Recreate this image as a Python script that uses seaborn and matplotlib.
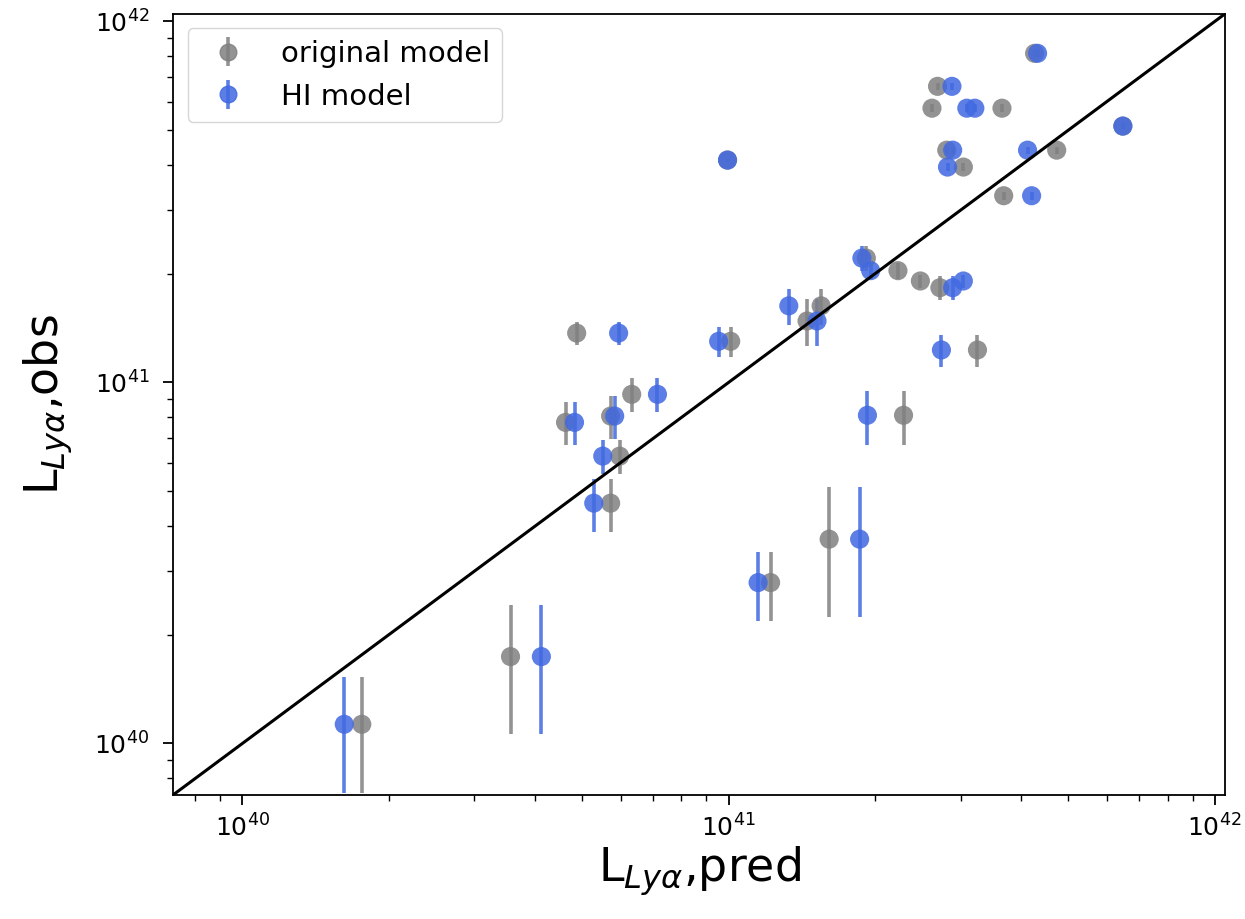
import numpy as np
import pandas as pd
import matplotlib
matplotlib.use("Agg")
import matplotlib.pyplot as plt
import seaborn as sns

# Observed Lya luminosities (erg/s) and their 1-sigma uncertainties
l_obs = [8.16e41, 6.61e41, 5.75e41, 5.75e41, 4.40e41, 3.95e41, 4.40e41,
         3.29e41, 5.13e41, 4.13e41, 2.21e41, 2.04e41, 1.91e41, 1.83e41,
         1.63e41, 1.48e41, 1.30e41, 1.37e41, 1.23e41, 9.27e40, 8.11e40,
         8.07e40, 7.75e40, 6.25e40, 4.63e40, 3.68e40, 2.79e40, 1.74e40,
         1.13e40]
l_obs_err = [2.0e40, 1.6e40, 1.4e40, 1.4e40, 1.2e40, 1.0e40, 1.0e40,
             8.0e39, 1.0e40, 6.0e39, 1.7e40, 1.0e40, 8.0e39, 1.4e40,
             1.9e40, 2.2e40, 1.25e40, 1.0e40, 1.25e40, 1.0e40, 1.38e40,
             1.1e40, 1.05e40, 6.7e39, 7.7e39, 1.44e40, 6.0e39, 6.8e39,
             4.0e39]

# Predicted luminosities from the two models
l_pred_original = [4.26e41, 2.69e41, 2.62e41, 3.65e41, 2.81e41, 3.04e41,
                   4.73e41, 3.68e41, 6.47e41, 9.95e40, 1.92e41, 2.23e41,
                   2.48e41, 2.72e41, 1.55e41, 1.45e41, 1.01e41, 4.87e40,
                   3.25e41, 6.32e40, 2.29e41, 5.72e40, 4.62e40, 5.97e40,
                   5.72e40, 1.61e41, 1.22e41, 3.56e40, 1.76e40]
l_pred_hi = [4.32e41, 2.88e41, 3.09e41, 3.21e41, 2.89e41, 2.82e41,
             4.12e41, 4.20e41, 6.47e41, 9.95e40, 1.88e41, 1.96e41,
             3.04e41, 2.89e41, 1.33e41, 1.52e41, 9.54e40, 5.94e40,
             2.74e41, 7.14e40, 1.93e41, 5.83e40, 4.82e40, 5.51e40,
             5.28e40, 1.86e41, 1.15e41, 4.12e40, 1.62e40]

model_names = ["original model", "HI model"]
model_colors = ["grey", "royalblue"]
axis_limits = [7.2e39, 1.05e42]

df = pd.concat([
    pd.DataFrame({"pred": l_pred_original, "obs": l_obs, "err": l_obs_err,
                  "model": model_names[0]}),
    pd.DataFrame({"pred": l_pred_hi, "obs": l_obs, "err": l_obs_err,
                  "model": model_names[1]}),
], ignore_index=True)

plt.rcParams.update({
    "xtick.labelsize": 18,
    "ytick.labelsize": 18,
    "xtick.major.pad": 7,
    "ytick.major.pad": 10,
    "axes.labelsize": 33,
    "legend.fontsize": 21,
    "axes.linewidth": 1.3,
    "xtick.major.size": 7, "ytick.major.size": 7,
    "xtick.major.width": 1.3, "ytick.major.width": 1.3,
    "xtick.minor.size": 4, "ytick.minor.size": 4,
    "xtick.minor.width": 1.0, "ytick.minor.width": 1.0,
})

fig = plt.figure(figsize=(12.45, 9.19), dpi=100)
ax = fig.add_axes([0.139, 0.135, 0.845, 0.850])
ax.set_xscale("log")
ax.set_yscale("log")

alpha = 0.85
palette = dict(zip(model_names, model_colors))
for name, color in zip(model_names, model_colors):
    sub = df[df["model"] == name]
    ax.errorbar(sub["pred"], sub["obs"], yerr=sub["err"], fmt="none",
                ecolor=color, elinewidth=2.6, alpha=alpha, zorder=2)

sns.scatterplot(data=df, x="pred", y="obs", hue="model", palette=palette,
                s=190, alpha=alpha, linewidth=0, legend=False, ax=ax,
                zorder=3)

# one-to-one relation
sns.lineplot(x=axis_limits, y=axis_limits, color="black", linewidth=2.2,
             ax=ax, zorder=4)

ax.set_xlim(axis_limits)
ax.set_ylim(axis_limits)

# legend entries in errorbar style
handles = []
for name, color in zip(model_names, model_colors):
    h = ax.errorbar([], [], yerr=[], fmt="o", color=color, markersize=12,
                    elinewidth=2.6, alpha=alpha, label=name)
    handles.append(h)
ax.legend(handles=handles, loc="upper left", numpoints=1)

ax.set_xlabel(r"L$_{Ly\alpha}$,pred", labelpad=2)
ax.set_ylabel(r"L$_{Ly\alpha}$,obs", labelpad=14)

fig.savefig("out.png", dpi=100)
